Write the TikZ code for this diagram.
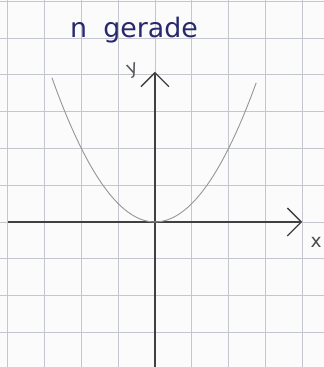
\documentclass[tikz,border=0pt]{standalone}
\usepackage{fontspec}
\setsansfont{DejaVu Sans}
\usepackage{tikz}
\usetikzlibrary{arrows.meta}
\usepackage{xcolor}
\definecolor{gridgray}{RGB}{196,200,206}
\definecolor{pengray}{RGB}{150,150,150}
\definecolor{inkblue}{RGB}{40,40,110}

\begin{document}
\begin{tikzpicture}[x=1cm,y=1cm,
    axis/.style={draw=black!75, line width=1pt, -{Straight Barb[length=3.8mm,width=7.6mm,line width=1pt]}},
    curve/.style={draw=pengray, line width=0.7pt}]
                % Paper and bounding box
                \fill[white!97!gray] (-4.21,-3.94) rectangle (4.59,6.03);
                \useasboundingbox (-4.21,-3.94) rectangle (4.59,6.03);

                % Squared paper
                \draw[gridgray, line width=0.6pt] (-4.21,-3.94) grid (4.59,6.03);

                % Coordinate axes
                \coordinate (xstart) at (-4,0);
                \coordinate (xend) at (4,0);
                \coordinate (ystart) at (0,-3.94);
                \coordinate (yend) at (0,4.08);
                \draw[axis] (xstart) -- (xend);
                \draw[axis] (ystart) -- (yend);
                \node[text=black!70, font=\sffamily\Large] (xlabel) at (4.38,-0.55) {x};
                \node[text=black!65, font=\sffamily\Large, rotate=20] (ylabel) at (-0.6,4.12) {y};

                % Parabola for even n
                \draw[curve] plot[domain=-2.8:2.75, samples=60, smooth] (\x,{0.5*\x*\x});

                % Title
                \node[text=inkblue, font=\sffamily\huge, anchor=base west, inner sep=0pt] (title) at (-2.31,5.0) {n\hspace{0.6em}gerade};
            \end{tikzpicture}
\end{document}
